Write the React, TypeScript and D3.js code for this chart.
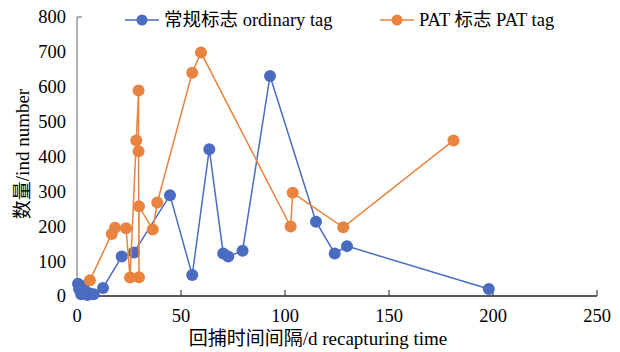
import React from 'react';
import * as d3 from 'd3';

// 常规标志 ordinary tag: recapture interval (d) and number
const ordinaryDays = [0.5, 1, 2, 3, 4, 5, 6, 8, 12.5, 21.5, 27.4, 44.7, 55.4, 63.6, 70.3, 72.7, 79.6, 92.8, 114.9, 123.9, 129.8, 198];
const ordinaryNum = [35, 20, 5, 28, 12, 3, 8, 5, 23, 113, 125, 289, 60, 421, 122, 113, 130, 631, 213, 122, 143, 20];

// PAT 标志 PAT tag
const patDays = [6.2, 16.7, 18.3, 23.6, 25.5, 28.5, 29.6, 29.6, 29.8, 29.8, 36.4, 38.6, 55.4, 59.6, 102.7, 103.7, 128, 181];
const patNum = [45, 178, 196, 194, 53, 446, 589, 415, 54, 257, 191, 268, 640, 698, 199, 296, 197, 446];

const xTicks = [0, 50, 100, 150, 200, 250];
const yTicks = [0, 100, 200, 300, 400, 500, 600, 700, 800];

const seriesNames = ['常规标志 ordinary tag', 'PAT 标志 PAT tag'];
const colors = ['#4a6cc0', '#e8843f'];

const txt = { fontFamily: "'Liberation Serif', Tinos, 'Times New Roman', Times, 'DejaVu Serif', serif, 'Noto Sans CJK SC'" };

const App = () => {
  const margin = { top: 17, right: 23, bottom: 56, left: 77 };
  const W = 620;
  const H = 352;
  const width = W - margin.left - margin.right;
  const height = H - margin.top - margin.bottom;

  const x = d3.scaleLinear().domain([0, 250]).range([0, width]);
  const y = d3.scaleLinear().domain([0, 800]).range([height, 0]);

  const line = d3
    .line<[number, number]>()
    .x((d) => x(d[0]))
    .y((d) => y(d[1]));

  const series = [
    ordinaryDays.map((d, i) => [d, ordinaryNum[i]] as [number, number]),
    patDays.map((d, i) => [d, patNum[i]] as [number, number]),
  ];

  const legendX = [125, 380];

  return (
    <svg
      width={W}
      height={H}
      style={{ position: 'absolute', left: 0, top: 0, background: '#fff' }}
    >
      <g transform={`translate(${margin.left},${margin.top})`}>
        {/* y axis */}
        <line x1={0} x2={0} y1={0} y2={height} stroke="#7f7f7f" strokeWidth={1.2} />
        <line x1={0} x2={5} y1={0} y2={0} stroke="#7f7f7f" strokeWidth={1.2} />
        {yTicks.map((t) => (
          <text key={t} x={-11} y={y(t)} dy="0.35em" textAnchor="end" fontSize={18.5} fill="#000" style={txt}>
            {t}
          </text>
        ))}
        {/* x axis */}
        <line x1={0} x2={width} y1={height} y2={height} stroke="#595959" strokeWidth={2} />
        {xTicks.map((t) => (
          <g key={t}>
            {t > 0 && <line x1={x(t)} x2={x(t)} y1={height} y2={height - 6} stroke="#404040" strokeWidth={1.2} />}
            <text x={x(t)} y={height + 26} textAnchor="middle" fontSize={18.5} fill="#000" style={txt}>
              {t}
            </text>
          </g>
        ))}

        {series.map((s, si) => (
          <g key={si}>
            <path d={line(s) || ''} fill="none" stroke={colors[si]} strokeWidth={1.5} />
            {s.map((p, i) => (
              <circle key={i} cx={x(p[0])} cy={y(p[1])} r={6} fill={colors[si]} />
            ))}
          </g>
        ))}
      </g>

      {/* legend */}
      {seriesNames.map((n, i) => (
        <g key={n} transform={`translate(${legendX[i]},20)`}>
          <line x1={0} x2={34} y1={0} y2={0} stroke={colors[i]} strokeWidth={1.5} />
          <circle cx={17} cy={0} r={5.5} fill={colors[i]} />
          <text x={39} y={0} dy="0.35em" fontSize={18.5} fill="#000" style={txt}>
            {n}
          </text>
        </g>
      ))}

      {/* axis titles */}
      <text x={318} y={345} textAnchor="middle" fontSize={19} fill="#000" style={txt}>
        回捕时间间隔/d recapturing time
      </text>
      <text
        transform={`translate(29,154) rotate(-90)`}
        textAnchor="middle"
        fontSize={19}
        fill="#000"
        style={txt}
      >
        数量/ind number
      </text>
    </svg>
  );
};

export default App;
